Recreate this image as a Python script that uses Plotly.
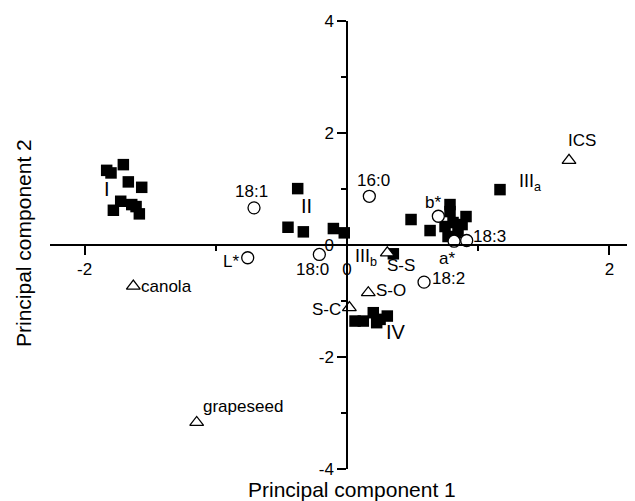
import plotly.graph_objects as go

# ---- data ----
sq_x = [-1.832, -1.799, -1.705, -1.667, -1.565, -1.725, -1.781, -1.641, -1.608, -1.583,
        -0.376, -0.450, -0.333, -0.104, -0.021,
        0.353,
        0.488, 0.633, 0.785, 0.785, 0.907, 0.747, 0.808, 0.846, 0.770, 0.877,
        1.166,
        0.061, 0.124, 0.200, 0.252, 0.307, 0.226]
sq_y = [1.333, 1.287, 1.435, 1.127, 1.030, 0.781, 0.620, 0.722, 0.686, 0.556,
        1.007, 0.317, 0.235, 0.294, 0.217,
        -0.157,
        0.455, 0.258, 0.722, 0.597, 0.508, 0.330, 0.401, 0.223, 0.152, 0.365,
        0.989,
        -1.358, -1.358, -1.209, -1.328, -1.269, -1.387]

circ_names = ["18:1", "L*", "18:0", "16:0", "b*", "a*", "18:3", "18:2"]
circ_x = [-0.709, -0.757, -0.211, 0.170, 0.696, 0.816, 0.912, 0.587]
circ_y = [0.663, -0.228, -0.169, 0.870, 0.513, 0.068, 0.080, -0.663]

tri_names = ["canola", "grapeseed", "ICS", "S-S", "S-O", "S-C"]
tri_x = [-1.629, -1.146, 1.692, 0.307, 0.162, 0.018]
tri_y = [-0.734, -3.169, 1.512, -0.139, -0.852, -1.119]

group_names = ["I", "II", "III<sub>a</sub>", "III<sub>b</sub>", "IV"]
group_x = [-1.827, -0.3125, 1.395, 0.145, 0.373]
group_y = [1.007, 0.692, 1.114, -0.223, -1.554]

x_ticks = [-2, 0, 2]
x_minor = [-1, 1]
y_ticks = [-4, -2, 0, 2, 4]
y_minor = [-3, -1, 1, 3]

x_title = "Principal component 1"
y_title = "Principal component 2"

# ---- styling ----
FONT = "Liberation Sans, Arial, sans-serif"
PAGE_OFF = 8            # default body margin of the html page
W, H = 635 - PAGE_OFF, 501 - PAGE_OFF
ML, MR, MT, MB = 50 - PAGE_OFF, 0, 20.7 - PAGE_OFF, 31.7
XR = [-2.264, 2.195]
YR = [-4, 4]
LAB = 17

# label offsets (pixels) relative to their marker
circ_lab = {
    "18:1": dict(xshift=-3, yshift=16, xanchor="center", yanchor="middle"),
    "L*": dict(xshift=-17, yshift=-4, xanchor="center", yanchor="middle"),
    "18:0": dict(xshift=-7, yshift=-15, xanchor="center", yanchor="middle"),
    "16:0": dict(xshift=4, yshift=16, xanchor="center", yanchor="middle"),
    "b*": dict(xshift=-5, yshift=14, xanchor="center", yanchor="middle"),
    "a*": dict(xshift=-7, yshift=-17, xanchor="center", yanchor="middle"),
    "18:3": dict(xshift=4, yshift=4, xanchor="left", yanchor="middle"),
    "18:2": dict(xshift=6, yshift=4, xanchor="left", yanchor="middle"),
}
tri_lab = {
    "canola": dict(xshift=6, yshift=0, xanchor="left", yanchor="middle"),
    "grapeseed": dict(xshift=4, yshift=16, xanchor="left", yanchor="middle"),
    "ICS": dict(xshift=13, yshift=20, xanchor="center", yanchor="middle"),
    "S-S": dict(xshift=14, yshift=-13, xanchor="center", yanchor="middle"),
    "S-O": dict(xshift=6, yshift=2, xanchor="left", yanchor="middle"),
    "S-C": dict(xshift=-6, yshift=-2, xanchor="right", yanchor="middle"),
}
group_size = {"I": 20, "II": 20, "III<sub>a</sub>": 18, "III<sub>b</sub>": 18, "IV": 20}

fig = go.Figure()
fig.add_trace(go.Scatter(
    x=sq_x, y=sq_y, mode="markers",
    marker=dict(symbol="square", size=11.5, color="black", line=dict(width=0)),
    hoverinfo="skip", showlegend=False))
fig.add_trace(go.Scatter(
    x=circ_x, y=circ_y, mode="markers",
    marker=dict(symbol="circle", size=12, color="white", line=dict(width=1.3, color="black")),
    hoverinfo="skip", showlegend=False))
fig.add_trace(go.Scatter(
    x=tri_x, y=tri_y, mode="markers",
    marker=dict(symbol="triangle-up", size=12, color="white", line=dict(width=1.3, color="black")),
    hoverinfo="skip", showlegend=False))

ann = []
for n, x, y in zip(circ_names, circ_x, circ_y):
    ann.append(dict(x=x, y=y, xref="x", yref="y", text=n, showarrow=False,
                    font=dict(family=FONT, size=LAB, color="black"), **circ_lab[n]))
for n, x, y in zip(tri_names, tri_x, tri_y):
    ann.append(dict(x=x, y=y, xref="x", yref="y", text=n, showarrow=False,
                    font=dict(family=FONT, size=LAB, color="black"), **tri_lab[n]))
for n, x, y in zip(group_names, group_x, group_y):
    ann.append(dict(x=x, y=y, xref="x", yref="y", text=n, showarrow=False,
                    font=dict(family=FONT, size=group_size[n], color="black"),
                    xanchor="center", yanchor="middle"))

pw = W - ML - MR
ph = H - MT - MB


def paper_pos(px, py):
    """screen pixel (reference frame) -> plot-area paper coordinates"""
    fx, fy = px - PAGE_OFF, py - PAGE_OFF
    return (fx - ML) / pw, (H - fy - MB) / ph


tx, ty = paper_pos(352, 490)
ann.append(dict(x=tx, y=ty, xref="paper", yref="paper", text=x_title,
                showarrow=False, font=dict(family=FONT, size=21, color="black"),
                xanchor="center", yanchor="middle"))
tx, ty = paper_pos(23, 243)
ann.append(dict(x=tx, y=ty, xref="paper", yref="paper", text=y_title,
                showarrow=False, textangle=-90, font=dict(family=FONT, size=21, color="black"),
                xanchor="center", yanchor="middle"))

y0_frac = (0 - YR[0]) / (YR[1] - YR[0])
x0_frac = (0 - XR[0]) / (XR[1] - XR[0])

axis_common = dict(showgrid=False, zeroline=False, showline=True, linecolor="black", linewidth=1.5,
                   ticks="outside", ticklen=9, tickwidth=1.5, tickcolor="black",
                   tickmode="array", tickfont=dict(family=FONT, size=17, color="black"),
                   fixedrange=True)

fig.update_layout(
    width=W, height=H,
    margin=dict(l=ML, r=MR, t=MT, b=MB, pad=0),
    paper_bgcolor="white", plot_bgcolor="white",
    font=dict(family=FONT, size=15, color="black"),
    annotations=ann,
    xaxis=dict(range=XR, anchor="free", position=y0_frac,
               tickvals=x_ticks, ticktext=[str(v) for v in x_ticks],
               minor=dict(tickmode="array", tickvals=x_minor, ticks="outside", ticklen=5,
                          tickwidth=1.5, tickcolor="black", showgrid=False),
               **axis_common),
    yaxis=dict(range=YR, anchor="free", position=x0_frac,
               tickvals=y_ticks, ticktext=[str(v) for v in y_ticks],
               minor=dict(tickmode="array", tickvals=y_minor, ticks="outside", ticklen=5,
                          tickwidth=1.5, tickcolor="black", showgrid=False),
               **axis_common),
)

fig.write_html("out.html")
